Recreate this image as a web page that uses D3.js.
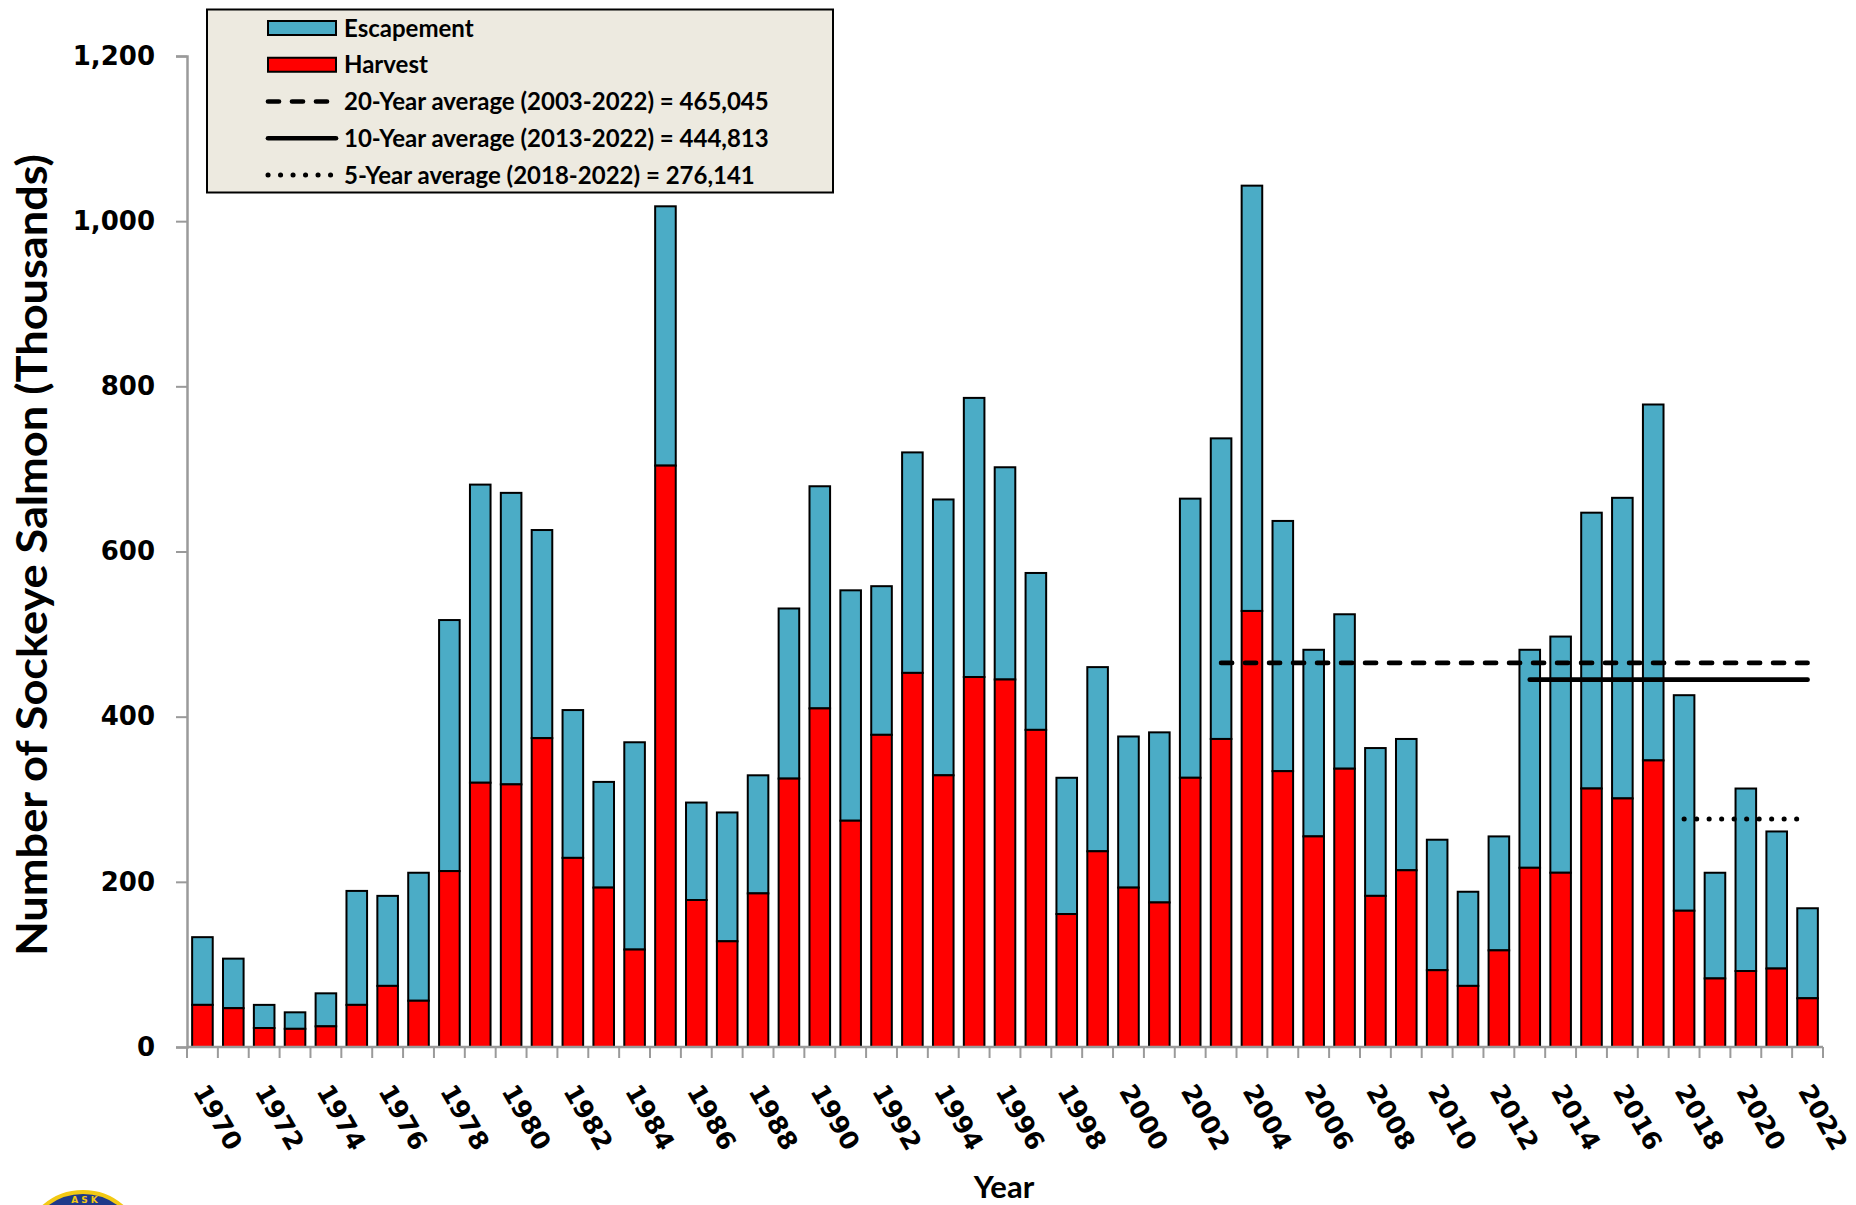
<!DOCTYPE html>
<html>
<head>
<meta charset="utf-8">
<script src="https://cdn.jsdelivr.net/npm/d3@7"></script>
<style>
body { margin: 0; background: #fff; }
svg { display: block; }
</style>
</head>
<body>
<div id="chart"></div>
<script>
// values in thousands of fish
var years = d3.range(1970, 2023)
var harvest = [51, 47, 23, 22, 25, 51, 74, 56, 213, 320, 318, 374, 229, 193, 118, 704, 178, 128,
    186, 325, 410, 274, 378, 453, 329, 448, 445, 384, 161, 237, 193, 175, 326, 373, 528, 334,
    255, 337, 183, 214, 93, 74, 117, 217, 211, 313, 301, 347, 165, 83, 92, 95, 59]
var escapement = [82, 60, 28, 20, 40, 138, 109, 155, 304, 361, 353, 252, 179, 128, 251, 314, 118, 156,
    143, 206, 269, 279, 180, 267, 334, 338, 257, 190, 165, 223, 183, 206, 338, 364, 515, 303,
    226, 187, 179, 159, 158, 114, 138, 264, 286, 334, 364, 431, 261, 128, 221, 166, 109]
var yTicks = [0, 200, 400, 600, 800, 1000, 1200]
var xLabelYears = d3.range(1970, 2023, 2)

var avgNames = ["20-Year average (2003-2022) = 465,045", "10-Year average (2013-2022) = 444,813", "5-Year average (2018-2022) = 276,141"]
var avgValues = [465.045, 444.813, 276.141]
var avgFrom = [2003, 2013, 2018]
var avgTo = [2022, 2022, 2022]
var avgDash = ["11,13", null, "0.1,12.4"]

var W = 1856, H = 1205
var escColor = "#4bacc6", harvColor = "#ff0000", axisGray = "#9a9a9a"
var narrow = "Lato, 'Open Sans', sans-serif"
var wide = "'DejaVu Sans', Verdana, sans-serif"

var svg = d3.select("#chart").append("svg")
    .attr("width", W).attr("height", H)

var x = d3.scaleBand()
    .domain(years)
    .range([187, 1823])
    .paddingInner(0.333)
    .paddingOuter(0.1665)
var y = d3.scaleLinear()
    .domain([0, 1200])
    .range([1047, 56])

// bars: harvest at the bottom, escapement stacked on top
var bars = svg.append("g")
years.forEach(function(yr, i) {
    bars.append("rect")
        .attr("x", x(yr)).attr("width", x.bandwidth())
        .attr("y", y(harvest[i] + escapement[i]))
        .attr("height", y(harvest[i]) - y(harvest[i] + escapement[i]))
        .attr("fill", escColor).attr("stroke", "#000").attr("stroke-width", 2)
    bars.append("rect")
        .attr("x", x(yr)).attr("width", x.bandwidth())
        .attr("y", y(harvest[i]))
        .attr("height", y(0) - y(harvest[i]))
        .attr("fill", harvColor).attr("stroke", "#000").attr("stroke-width", 2)
})

// y axis
var yAxis = svg.append("g")
    .attr("transform", "translate(" + x.range()[0] + ",0)")
    .call(d3.axisLeft(y).tickValues(yTicks).tickSize(11).tickPadding(21).tickFormat(d3.format(",")))
yAxis.select(".domain").attr("stroke", axisGray).attr("stroke-width", 2.5)
yAxis.selectAll(".tick line").attr("stroke", axisGray).attr("stroke-width", 2)
yAxis.selectAll(".tick text")
    .attr("font-family", wide).attr("font-weight", "bold").attr("font-size", 26).attr("fill", "#000")

// x axis: line plus ticks on the band edges
var xAxis = svg.append("g")
xAxis.append("line")
    .attr("x1", x.range()[0]).attr("x2", x.range()[1])
    .attr("y1", y(0)).attr("y2", y(0))
    .attr("stroke", axisGray).attr("stroke-width", 2.5)
var edges = years.map(function(yr) { return x(yr) + x.bandwidth() / 2 - x.step() / 2 })
edges.push(x.range()[1])
xAxis.selectAll(".xt").data(edges).enter().append("line")
    .attr("x1", function(d) { return d }).attr("x2", function(d) { return d })
    .attr("y1", y(0)).attr("y2", y(0) + 11)
    .attr("stroke", axisGray).attr("stroke-width", 2)
xAxis.selectAll(".xl").data(xLabelYears).enter().append("text")
    .attr("transform", function(d) {
        return "translate(" + (x(d) + x.bandwidth() / 2 - 10) + "," + (y(0) + 44) + ") rotate(60)"
    })
    .attr("font-family", wide).attr("font-weight", "bold").attr("font-size", 25.5)
    .text(function(d) { return d })

// average lines, from the middle of the first year to the middle of 2022
var avgG = svg.append("g")
avgValues.forEach(function(v, i) {
    avgG.append("line")
        .attr("x1", x(avgFrom[i]) + x.bandwidth() / 2)
        .attr("x2", x(avgTo[i]) + x.bandwidth() / 2)
        .attr("y1", y(v)).attr("y2", y(v))
        .attr("stroke", "#000").attr("stroke-width", i == 2 ? 5 : 4.7)
        .attr("stroke-linecap", "round")
        .attr("stroke-dasharray", avgDash[i])
})

// axis titles
svg.append("text")
    .attr("transform", "translate(47,555) rotate(-90)")
    .attr("text-anchor", "middle")
    .attr("font-family", narrow).attr("font-weight", "bold").attr("font-size", 42)
    .attr("textLength", 802).attr("lengthAdjust", "spacingAndGlyphs")
    .text("Number of Sockeye Salmon  (Thousands)")
svg.append("text")
    .attr("x", 1004).attr("y", 1198)
    .attr("text-anchor", "middle")
    .attr("font-family", narrow).attr("font-weight", "bold").attr("font-size", 31)
    .text("Year")

// legend
var leg = svg.append("g")
leg.append("rect")
    .attr("x", 207).attr("y", 9.5).attr("width", 626).attr("height", 183)
    .attr("fill", "#edeae0").attr("stroke", "#000").attr("stroke-width", 2)
var legNames = ["Escapement", "Harvest"].concat(avgNames)
var legRowY = d3.scaleLinear().domain([0, 4]).range([28, 175])
legNames.forEach(function(name, i) {
    var ry = legRowY(i)
    if (i < 2) {
        leg.append("rect")
            .attr("x", 268).attr("y", ry - 7).attr("width", 68).attr("height", 14)
            .attr("fill", i == 0 ? escColor : harvColor).attr("stroke", "#000").attr("stroke-width", 2)
    } else {
        leg.append("line")
            .attr("x1", 268).attr("x2", i == 3 ? 336 : 332)
            .attr("y1", ry).attr("y2", ry)
            .attr("stroke", "#000").attr("stroke-width", i == 4 ? 5 : 4.7)
            .attr("stroke-linecap", "round")
            .attr("stroke-dasharray", avgDash[i - 2])
    }
    leg.append("text")
        .attr("x", 344).attr("y", ry).attr("dy", "0.36em")
        .attr("font-family", narrow).attr("font-weight", "bold").attr("font-size", 24)
        .text(name)
})

// logo peeking in at the bottom left
var logo = svg.append("g")
logo.append("circle")
    .attr("cx", 83).attr("cy", 1252).attr("r", 60)
    .attr("fill", "#1e3a8a").attr("stroke", "#f2c914").attr("stroke-width", 4)
logo.append("text")
    .attr("x", 86).attr("y", 1203)
    .attr("text-anchor", "middle")
    .attr("font-family", wide).attr("font-weight", "bold").attr("font-size", 9)
    .attr("letter-spacing", 3).attr("fill", "#f2c914")
    .text("ASK")
</script>
</body>
</html>
